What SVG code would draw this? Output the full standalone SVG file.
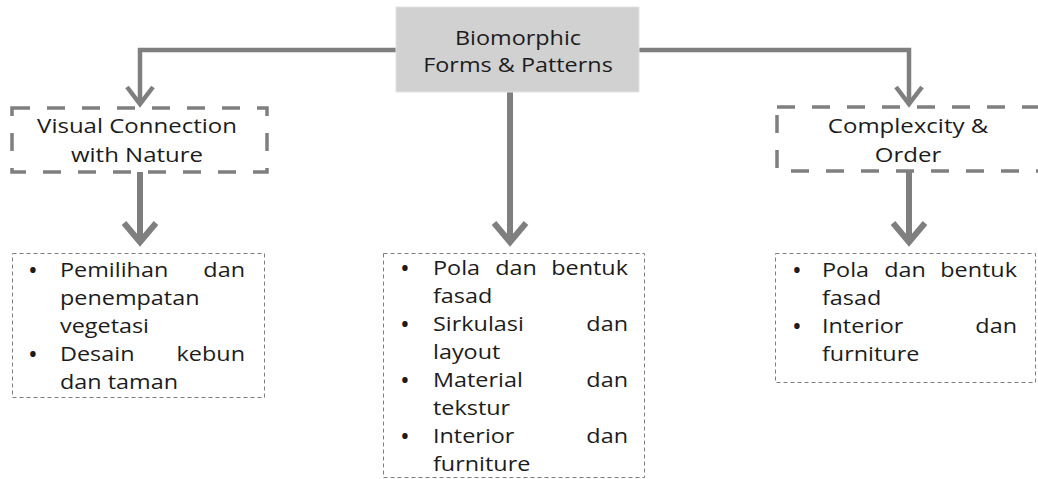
<svg xmlns="http://www.w3.org/2000/svg" width="1038" height="479" viewBox="0 0 1038 479">
<style>
.t{font-family:"Open Sans","Liberation Sans",sans-serif;font-size:20px;fill:#1c1c1c}
.b{font-family:"Open Sans","Liberation Sans",sans-serif;font-size:26px;fill:#1c1c1c}
.m{text-anchor:middle}
.e{text-anchor:end}
.thick{fill:none;stroke:#7f7f7f;stroke-width:3.5;stroke-dasharray:18 17}
.thin{fill:#fff;stroke:#7f7f7f;stroke-width:1;stroke-dasharray:4 3}
.ln{fill:none;stroke:#7f7f7f;stroke-linejoin:miter;stroke-linecap:butt}
</style>
<rect width="1038" height="479" fill="#fff"/>
<g id="connectors">
<path class="ln" stroke-width="4.5" d="M396 50 H140 V104"/>
<polyline class="ln" stroke-width="4.5" points="127,87 140,104 153,87"/>
<path class="ln" stroke-width="4.5" d="M639 50 H909 V104"/>
<polyline class="ln" stroke-width="4.5" points="896,87 909,104 922,87"/>
<path class="ln" stroke-width="6" d="M510 92 V242"/>
<polyline class="ln" stroke-width="6" points="494,223 510,242 526,223"/>
<path class="ln" stroke-width="6" d="M140 172 V242"/>
<polyline class="ln" stroke-width="6" points="124,223 140,242 156,223"/>
<path class="ln" stroke-width="6" d="M909 171 V242"/>
<polyline class="ln" stroke-width="6" points="893,223 909,242 925,223"/>
</g>
<g id="root">
<rect x="396" y="7" width="243" height="85" fill="#d1d1d1" stroke="#e2e2e2" stroke-width="1"/>
<text class="t m" transform="translate(518 45) scale(1.17 1)">Biomorphic</text>
<text class="t m" transform="translate(518 72) scale(1.17 1)">Forms &amp; Patterns</text>
</g>
<g id="visual">
<rect class="thick" x="12" y="108" width="255" height="64"/>
<text class="t m" transform="translate(137 133) scale(1.2 1)">Visual Connection</text>
<text class="t m" transform="translate(137 162) scale(1.2 1)">with Nature</text>
</g>
<g id="complexity">
<rect class="thick" x="777" y="107" width="264" height="64"/>
<text class="t m" transform="translate(908 133) scale(1.2 1)">Complexcity &amp;</text>
<text class="t m" transform="translate(908 162) scale(1.2 1)">Order</text>
</g>
<g id="list-left">
<rect class="thin" x="12.5" y="253.5" width="252" height="144"/>
<text class="b" transform="translate(28 279)">•</text>
<text class="t" transform="translate(60 277) scale(1.17 1)">Pemilihan</text>
<text class="t e" transform="translate(245 277) scale(1.17 1)">dan</text>
<text class="t" transform="translate(60 305) scale(1.17 1)">penempatan</text>
<text class="t" transform="translate(60 333) scale(1.17 1)">vegetasi</text>
<text class="b" transform="translate(28 363)">•</text>
<text class="t" transform="translate(60 361) scale(1.17 1)">Desain</text>
<text class="t e" transform="translate(245 361) scale(1.17 1)">kebun</text>
<text class="t" transform="translate(60 389) scale(1.17 1)">dan taman</text>
</g>
<g id="list-center">
<rect class="thin" x="383.5" y="253.5" width="261" height="224"/>
<text class="b" transform="translate(400 277)">•</text>
<text class="t" transform="translate(433 275) scale(1.17 1)">Pola</text>
<text class="t m" transform="translate(516 275) scale(1.17 1)">dan</text>
<text class="t e" transform="translate(628 275) scale(1.17 1)">bentuk</text>
<text class="t" transform="translate(433 303) scale(1.17 1)">fasad</text>
<text class="b" transform="translate(400 333)">•</text>
<text class="t" transform="translate(433 331) scale(1.17 1)">Sirkulasi</text>
<text class="t e" transform="translate(628 331) scale(1.17 1)">dan</text>
<text class="t" transform="translate(433 359) scale(1.17 1)">layout</text>
<text class="b" transform="translate(400 389)">•</text>
<text class="t" transform="translate(433 387) scale(1.17 1)">Material</text>
<text class="t e" transform="translate(628 387) scale(1.17 1)">dan</text>
<text class="t" transform="translate(433 415) scale(1.17 1)">tekstur</text>
<text class="b" transform="translate(400 445)">•</text>
<text class="t" transform="translate(433 443) scale(1.17 1)">Interior</text>
<text class="t e" transform="translate(628 443) scale(1.17 1)">dan</text>
<text class="t" transform="translate(433 471) scale(1.17 1)">furniture</text>
</g>
<g id="list-right">
<rect class="thin" x="775.5" y="253.5" width="260" height="129"/>
<text class="b" transform="translate(792 279)">•</text>
<text class="t" transform="translate(822 277) scale(1.17 1)">Pola</text>
<text class="t m" transform="translate(905 277) scale(1.17 1)">dan</text>
<text class="t e" transform="translate(1017 277) scale(1.17 1)">bentuk</text>
<text class="t" transform="translate(822 305) scale(1.17 1)">fasad</text>
<text class="b" transform="translate(792 335)">•</text>
<text class="t" transform="translate(822 333) scale(1.17 1)">Interior</text>
<text class="t e" transform="translate(1017 333) scale(1.17 1)">dan</text>
<text class="t" transform="translate(822 361) scale(1.17 1)">furniture</text>
</g>
</svg>
